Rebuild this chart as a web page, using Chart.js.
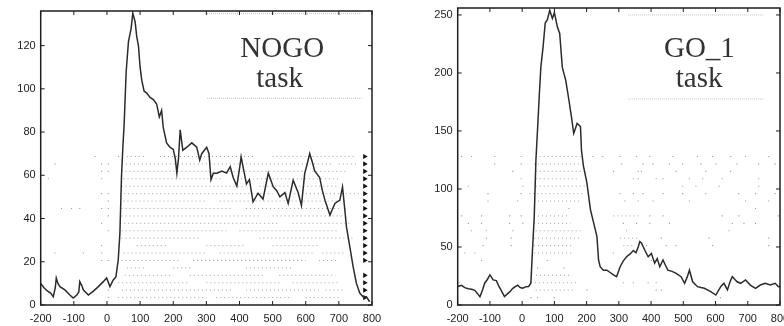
<!DOCTYPE html>
<html>
<head>
<meta charset="utf-8">
<script src="https://cdn.jsdelivr.net/npm/chart.js@4.4.1/dist/chart.umd.min.js"></script>
<style>
    html, body { margin: 0; padding: 0; background: #fff; }
    #wrap { position: relative; width: 784px; height: 326px; overflow: hidden; }
    canvas { position: absolute; top: 0; }
    #nogoChart { left: 0; }
    #goChart { left: 392px; }
</style>
</head>
<body>
<div id="wrap">
    <canvas id="nogoChart" width="392" height="326"></canvas>
    <canvas id="goChart" width="392" height="326"></canvas>
</div>
<script>
// tick labels
const timeTicks = [-200, -100, 0, 100, 200, 300, 400, 500, 600, 700, 800];
const nogoRateTicks = [0, 20, 40, 60, 80, 100, 120];
const goRateTicks = [0, 50, 100, 150, 200, 250];

// NOGO task: firing rate histogram (ms, spikes/s)
const nogoTimes = [-200, -190, -180, -170, -162, -156, -153, -148, -142, -127, -112, -102, -91, -85, -82, -76, -71, -56, -41, -26,
    -11, -1, 9, 19, 27, 34, 39, 44, 48, 52, 58, 65, 73, 78, 85, 90, 95, 100, 105, 112,
    120, 130, 140, 150, 158, 165, 170, 180, 190, 200, 206, 211, 216, 221, 229, 241, 256, 271, 280, 286,
    301, 308, 314, 321, 332, 347, 361, 372, 381, 392, 401, 405, 412, 421, 430, 441, 456, 471, 487, 502,
    512, 522, 537, 547, 562, 577, 587, 597, 604, 612, 620, 627, 642, 650, 658, 673, 688, 703, 711, 718,
    723, 733, 743, 753, 763, 773, 783, 793];
const nogoRates = [10, 8, 6.5, 5.5, 3.8, 8, 12.5, 10, 8.5, 7, 4.6, 3.2, 4.6, 6, 10.8, 9, 6.9, 4.6, 6.4, 8.5,
    10.8, 12.5, 8.5, 11.6, 13, 20.8, 33, 60, 73, 84, 108, 122, 128, 135, 131, 124, 120, 110, 104, 99,
    98, 96, 95, 93, 87, 90, 82, 75, 73, 72, 68, 61, 68, 81, 71.5, 73, 75, 73, 67, 70,
    73, 70, 58, 61, 61, 62, 61, 64, 59, 55, 64, 68.5, 63, 56, 58, 47.7, 51.7, 49, 61, 54.6,
    53, 50, 52, 47, 57.7, 52, 46, 61, 65, 70, 66, 62, 59, 53, 48.5, 41.6, 47, 48.5, 54.6, 44,
    36, 27, 17.7, 10, 5.5, 3.8, 3.8, 1.5];

// GO_1 task
const goTimes = [-200, -188, -178, -167, -157, -147, -139, -131, -123, -116, -108, -100, -90, -80, -72, -65, -55, -44, -36, -29,
    -20, -14, -6, 2, 12, 20, 27, 32, 37.5, 42.7, 47.7, 53, 58, 65, 71.5, 78, 85.6, 93.8, 100, 109,
    116.5, 124.5, 130, 135, 145, 153, 160, 165, 170.5, 181, 184, 190, 197, 201, 212, 222, 232, 237, 242, 252,
    263, 273, 283, 293, 304, 314, 324, 335, 345, 353, 360, 365, 370, 381, 391, 401, 411, 419, 427, 437,
    445, 452, 465, 478, 493, 504, 512, 519, 529, 544, 555, 565, 575, 585, 601, 616, 626, 637, 645, 652,
    660, 667, 678, 693, 708, 724, 739, 754, 770, 785, 795, 800];
const goRates = [16, 17, 15, 14, 13.5, 12.6, 10, 7.2, 13, 19, 22, 25.9, 21.6, 21, 16, 12.6, 7.2, 10, 12, 14.4,
    16, 17, 15, 14.4, 15.8, 16, 18.7, 47, 76, 125, 151, 180, 205, 222.7, 243, 245.7, 254, 247, 252, 240,
    234, 205, 199, 194, 176.7, 162, 148, 152, 156.6, 153.7, 133.6, 120, 110.6, 105, 82, 70.6, 59, 38.8, 33, 30,
    30, 28, 25.9, 24.4, 33, 38, 41.6, 44, 47, 45, 50, 54.6, 53.4, 47, 41.6, 44.5, 36, 40, 33, 38.8,
    34, 30, 29, 27.3, 24.4, 18.7, 24, 30, 20, 15.8, 15, 14.4, 13, 11.5, 8.6, 15.8, 18.7, 13, 20, 24.4,
    22, 20, 18.7, 21.6, 17.2, 14.4, 17.2, 18.7, 17.2, 18.7, 15.8, 16];

// raster, trial 1 (bottom) to trial 20 (top)
const nogoSpikes = [[4], [4], [], [], [], [-16, 4], [-157, -71, -16], [-16], [], [4],
    [-16], [4], [-137, -107, -82, -16, 4], [4], [-16, 4], [], [-177, -16], [-16, 4], [-157, -16, 4], [-36, 35]];
const nogoBursts = [
    [[34, 300], [330, 560], [600, 700]],
    [[45, 380], [420, 640], [660, 720]],
    [[34, 250], [300, 520], [560, 700]],
    [[54, 200], [250, 480], [520, 690]],
    [[60, 120], [200, 260], [420, 560]],
    [[44, 220], [260, 600], [640, 700]],
    [[50, 300], [340, 620], [650, 720]],
    [[90, 180], [300, 420], [500, 640]],
    [[44, 280], [460, 743]],
    [[44, 360], [400, 700]],
    [[40, 520], [560, 740]],
    [[44, 460], [500, 710]],
    [[44, 380], [420, 700]],
    [[50, 300], [340, 720]],
    [[40, 500], [540, 760]],
    [[44, 420], [460, 700]],
    [[50, 350], [380, 700]],
    [[44, 600], [620, 720]],
    [[45, 683], [700, 760]],
    [[60, 120], [160, 450], [500, 750]]
];
const nogoEndTrials = [1, 2, 3, 4, 6, 7, 8, 9, 10, 11, 12, 13, 14, 15, 16, 17, 18, 19, 20];
const nogoEndTime = 778;

const goSpikes = [[27, 48, 99, 615], [201, 416, 432], [-195, 314, 345, 391, 416], [], [48, 130],
    [-126, 78, 401], [-178, -147, 283], [-121, -34, 386, 447, 478, 591, 765], [-111, -34, 432, 580, 765], [-157, -111, -29, 324, 642],
    [-167, -126, -39, 2, 314, 355, 396, 457, 652, 688, 724], [-188, -126, -39, -3, 396, 437, 621, 672, 795], [145, 724],
    [-106, -14, 319, 360, 406, 519, 693, 765], [-106, -3, 304, 345, 375, 437, 498, 570, 672, 724, 785],
    [-167, 2, 498, 539, 611, 734], [-3, 345, 360, 416, 437, 519, 560, 621, 734], [-29, 283, 360, 370, 478, 570, 647],
    [-85, -3, 309, 375, 406, 457, 498, 555, 601, 667, 734, 785],
    [-188, -157, -85, -3, 220, 250, 303, 355, 396, 468, 544, 591, 647, 693, 765]];
const goBursts = [
    [], [[42, 160]], [[27, 171]], [[43, 155]], [], [], [[37, 161]], [[37, 161], [314, 345]], [[37, 181], [304, 365]], [[42, 181]],
    [[37, 150]], [[37, 140], [283, 365]], [], [[37, 176]], [[22, 191]], [[42, 197]], [[42, 171]], [[42, 186]], [[37, 176]], [[42, 181]]
];

function rasterSpikePoints(rows) {
    const pts = [];
    rows.forEach((row, i) => row.forEach(t => pts.push({ x: t, y: i + 1 })));
    return pts;
}

function rasterBurstPoints(rows) {
    const pts = [];
    rows.forEach((row, i) => row.forEach(([a, b]) => {
        pts.push({ x: a, y: i + 1 }, { x: b, y: i + 1 }, { x: b + 0.5, y: null });
    }));
    return pts;
}

const framePlugin = {
    id: 'frame',
    afterDatasetsDraw(chart, args, opts) {
        const { ctx, chartArea: a, scales } = chart;
        const x = scales.x, y = scales.y;
        const seg = (x1, y1, x2, y2) => { ctx.beginPath(); ctx.moveTo(x1, y1); ctx.lineTo(x2, y2); ctx.stroke(); };
        ctx.save();

        // faint lines around the task label
        ctx.strokeStyle = '#c4c4c4';
        ctx.lineWidth = 1;
        ctx.setLineDash([1, 1]);
        opts.boxY.forEach(v => seg(x.getPixelForValue(opts.boxX[0]), y.getPixelForValue(v), x.getPixelForValue(opts.boxX[1]), y.getPixelForValue(v)));
        ctx.setLineDash([]);

        ctx.strokeStyle = '#1e1e1e';
        ctx.lineWidth = 1.5;
        ctx.strokeRect(a.left, a.top, a.right - a.left, a.bottom - a.top);

        ctx.lineWidth = 1;
        x.ticks.forEach(t => {
            const px = x.getPixelForValue(t.value);
            seg(px, a.bottom, px, a.bottom - 4);
            seg(px, a.top, px, a.top + 4);
        });
        y.ticks.forEach(t => {
            const py = y.getPixelForValue(t.value);
            seg(a.left, py, a.left + 4, py);
            seg(a.right, py, a.right - 4, py);
        });

        ctx.fillStyle = '#333';
        ctx.font = '29px "Liberation Serif", "Times New Roman", serif';
        ctx.textAlign = 'center';
        ctx.textBaseline = 'alphabetic';
        opts.title.forEach((line, i) => {
            ctx.fillText(line, x.getPixelForValue(opts.titleX[i]), y.getPixelForValue(opts.titleY[i]));
        });
        ctx.restore();
    }
};

function buildChart(canvasId, cfg) {
    const font = { family: '"Liberation Sans", Arial, sans-serif', size: 11 };
    return new Chart(document.getElementById(canvasId).getContext('2d'), {
        type: 'line',
        data: {
            datasets: [
                {
                    data: cfg.times.map((t, i) => ({ x: t, y: cfg.rates[i] })),
                    borderColor: '#2b2b2b',
                    borderWidth: 1.5,
                    pointRadius: 0,
                    tension: 0,
                    order: 0
                },
                {
                    data: rasterBurstPoints(cfg.bursts),
                    yAxisID: 'trial',
                    borderColor: '#a2a2a2',
                    borderWidth: 1,
                    borderDash: [1, 3],
                    pointRadius: 0,
                    spanGaps: false,
                    order: 3
                },
                {
                    type: 'scatter',
                    data: rasterSpikePoints(cfg.spikes),
                    yAxisID: 'trial',
                    backgroundColor: '#a0a0a0',
                    borderWidth: 0,
                    pointStyle: 'rect',
                    pointRadius: 0.8,
                    order: 2
                },
                {
                    type: 'scatter',
                    data: (cfg.endTrials || []).map(k => ({ x: cfg.endTime, y: k })),
                    yAxisID: 'trial',
                    backgroundColor: '#111',
                    borderWidth: 0,
                    pointStyle: 'triangle',
                    rotation: 90,
                    pointRadius: 3,
                    order: 1
                }
            ]
        },
        options: {
            responsive: false,
            animation: false,
            events: [],
            layout: { padding: cfg.padding },
            plugins: {
                legend: { display: false },
                tooltip: { enabled: false },
                frame: { title: cfg.title, titleX: cfg.titleX, titleY: cfg.titleY, boxX: cfg.boxX, boxY: cfg.boxY }
            },
            scales: {
                x: {
                    type: 'linear',
                    min: -200,
                    max: 800,
                    grid: { display: false, drawTicks: false },
                    border: { display: false },
                    afterBuildTicks: s => { s.ticks = timeTicks.map(v => ({ value: v })); },
                    ticks: { color: '#222', font, padding: 7, maxRotation: 0, autoSkip: false },
                    afterFit: s => { s.height = 21; s.paddingLeft = 0; s.paddingRight = 0; }
                },
                y: {
                    min: 0,
                    max: cfg.yMax,
                    grid: { display: false, drawTicks: false },
                    border: { display: false },
                    afterBuildTicks: s => { s.ticks = cfg.yTicks.map(v => ({ value: v })); },
                    ticks: { color: '#222', font, padding: 5 },
                    afterFit: s => { s.width = cfg.yWidth; s.paddingTop = 0; s.paddingBottom = 0; }
                },
                trial: {
                    display: false,
                    min: 0,
                    max: cfg.trialMax
                }
            }
        },
        plugins: [framePlugin]
    });
}

buildChart('nogoChart', {
    times: nogoTimes, rates: nogoRates, spikes: nogoSpikes, bursts: nogoBursts,
    endTrials: nogoEndTrials, endTime: nogoEndTime,
    yMax: 136, yTicks: nogoRateTicks, trialMax: 39.6,
    yWidth: 40.7, padding: { top: 11, right: 20, left: 0, bottom: 0 },
    title: ['NOGO', 'task'], titleX: [529, 521], titleY: [114.5, 101],
    boxX: [302, 769], boxY: [95.6, 134.9]
});

buildChart('goChart', {
    times: goTimes, rates: goRates, spikes: goSpikes, bursts: goBursts,
    yMax: 256, yTicks: goRateTicks, trialMax: 40,
    yWidth: 65.7, padding: { top: 8, right: 1, left: 0, bottom: 0 },
    title: ['GO_1', 'task'], titleX: [550, 549], titleY: [213.8, 187.7],
    boxX: [329, 750], boxY: [177.6, 250]
});
</script>
</body>
</html>
